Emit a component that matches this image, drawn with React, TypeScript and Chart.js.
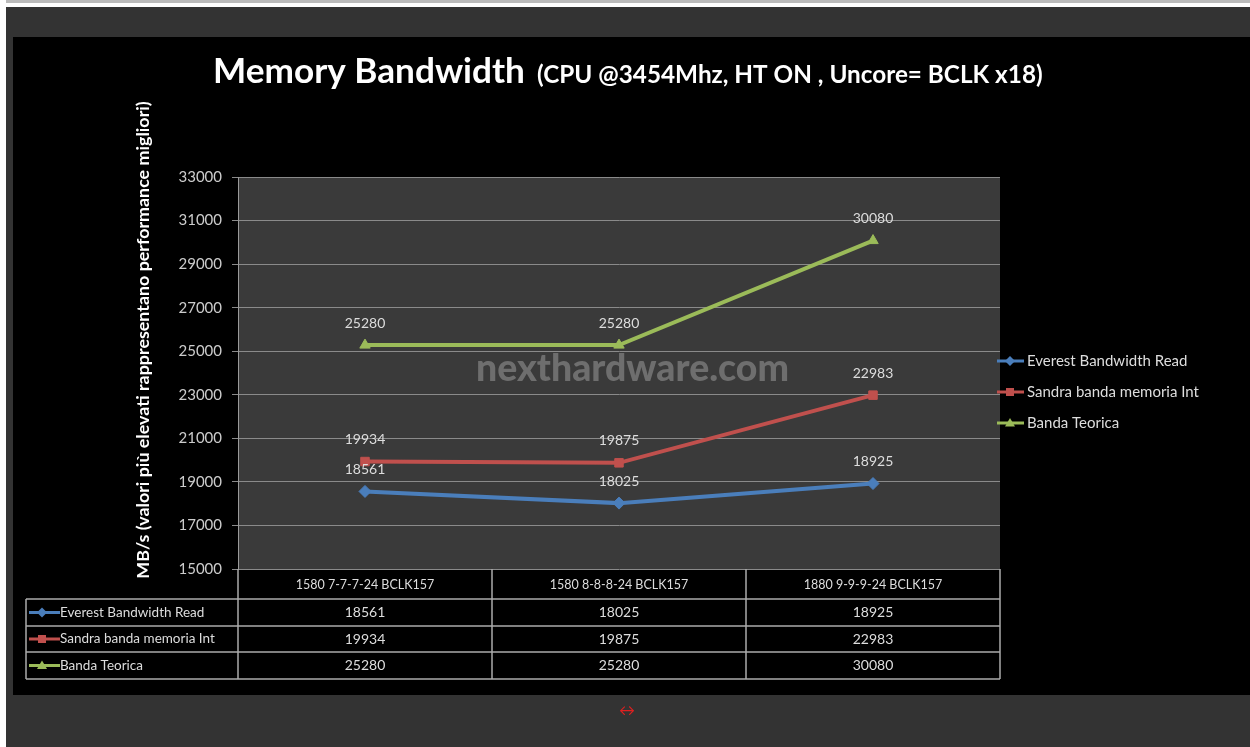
import { useEffect, useRef } from "react";
import { Chart, registerables } from "chart.js";
Chart.register(...registerables);

const categories = ["1580 7-7-7-24 BCLK157", "1580 8-8-8-24 BCLK157", "1880 9-9-9-24 BCLK157"];
const everest = [18561, 18025, 18925];
const sandra = [19934, 19875, 22983];
const teorica = [25280, 25280, 30080];
const seriesNames = ["Everest Bandwidth Read", "Sandra banda memoria Int", "Banda Teorica"];
const seriesColors = ["#4a7ebb", "#c0504d", "#9bbb59"];
const seriesPoints = ["rectRot", "rect", "triangle"];
const yMin = 15000;
const yMax = 33000;
const yStep = 2000;
const titleMain = "Memory Bandwidth";
const titleSub = "(CPU @3454Mhz, HT ON , Uncore= BCLK x18)";
const yTitle = "MB/s (valori più elevati rappresentano performance migliori)";
const watermark = "nexthardware.com";

const FONT = "Lato, 'Open Sans', sans-serif";

function fitFont(ctx: CanvasRenderingContext2D, text: string, width: number, weight: string) {
  ctx.font = `${weight} 100px ${FONT}`;
  const w = ctx.measureText(text).width;
  const size = (100 * width) / w;
  return `${weight} ${size.toFixed(2)}px ${FONT}`;
}

function drawMarker(ctx: CanvasRenderingContext2D, style: string, x: number, y: number, r: number, color: string) {
  ctx.save();
  ctx.fillStyle = color;
  ctx.beginPath();
  if (style === "rectRot") {
    ctx.moveTo(x, y - r);
    ctx.lineTo(x + r, y);
    ctx.lineTo(x, y + r);
    ctx.lineTo(x - r, y);
  } else if (style === "rect") {
    ctx.rect(x - r * 0.8, y - r * 0.8, r * 1.6, r * 1.6);
  } else {
    ctx.moveTo(x, y - r);
    ctx.lineTo(x + r, y + r * 0.7);
    ctx.lineTo(x - r, y + r * 0.7);
  }
  ctx.closePath();
  ctx.fill();
  ctx.restore();
}

const decorPlugin = {
  id: "decor",
  beforeDraw(chart: any) {
    const ctx = chart.ctx as CanvasRenderingContext2D;
    const a = chart.chartArea;
    ctx.save();
    ctx.fillStyle = "#ffffff";
    ctx.fillRect(0, 0, 1250, 747);
    ctx.fillStyle = "#bbbbbb";
    ctx.fillRect(6, 0, 1244, 3);
    ctx.fillStyle = "#333333";
    ctx.fillRect(6, 7, 1244, 740);
    ctx.fillStyle = "#000000";
    ctx.fillRect(13, 37, 1237, 658);
    ctx.fillStyle = "#3a3a3a";
    ctx.fillRect(a.left, a.top, a.right - a.left, a.bottom - a.top);

    // title
    ctx.fillStyle = "#ffffff";
    ctx.textBaseline = "alphabetic";
    ctx.textAlign = "left";
    ctx.font = fitFont(ctx, titleMain, 312, "bold");
    ctx.fillText(titleMain, 213, 83);
    ctx.font = fitFont(ctx, titleSub, 506, "bold");
    ctx.fillText(titleSub, 537, 83);

    // y title
    ctx.save();
    ctx.translate(143, 340);
    ctx.rotate(-Math.PI / 2);
    ctx.textAlign = "center";
    ctx.textBaseline = "middle";
    ctx.font = fitFont(ctx, yTitle, 478, "bold");
    ctx.fillStyle = "#ffffff";
    ctx.fillText(yTitle, 0, 0);
    ctx.restore();

    // red arrow
    ctx.fillStyle = "#e02020";
    ctx.font = `16px ${FONT}`;
    ctx.textAlign = "center";
    ctx.textBaseline = "middle";
    ctx.fillText("↔", 627, 711);
    ctx.restore();
  },
  beforeDatasetsDraw(chart: any) {
    const ctx = chart.ctx as CanvasRenderingContext2D;
    ctx.save();
    ctx.fillStyle = "#6e6e6e";
    ctx.textAlign = "left";
    ctx.textBaseline = "middle";
    ctx.font = fitFont(ctx, watermark, 313, "900");
    ctx.fillText(watermark, 476, 369);
    ctx.restore();
  },
  afterDatasetsDraw(chart: any) {
    const ctx = chart.ctx as CanvasRenderingContext2D;
    ctx.save();
    ctx.fillStyle = "#dddddd";
    ctx.font = `14px ${FONT}`;
    ctx.textAlign = "center";
    ctx.textBaseline = "middle";
    chart.data.datasets.forEach((ds: any, di: number) => {
      const meta = chart.getDatasetMeta(di);
      meta.data.forEach((pt: any, i: number) => {
        ctx.fillText(String(ds.data[i]), pt.x, pt.y - 22);
      });
    });
    ctx.restore();
  },
  afterDraw(chart: any) {
    const ctx = chart.ctx as CanvasRenderingContext2D;
    const a = chart.chartArea;
    const xs = chart.scales.x;
    const band = (a.right - a.left) / categories.length;
    const series = [everest, sandra, teorica];
    ctx.save();
    // right legend
    ctx.font = `15px ${FONT}`;
    ctx.textAlign = "left";
    ctx.textBaseline = "middle";
    seriesNames.forEach((name, i) => {
      const y = 361 + i * 31;
      ctx.strokeStyle = seriesColors[i];
      ctx.lineWidth = 3;
      ctx.beginPath();
      ctx.moveTo(997, y);
      ctx.lineTo(1024, y);
      ctx.stroke();
      drawMarker(ctx, seriesPoints[i], 1010, y, 5, seriesColors[i]);
      ctx.fillStyle = "#dddddd";
      ctx.fillText(name, 1027, y);
    });

    // data table
    const top = a.bottom;
    const rowH = [30, 27, 26, 27];
    const left = 26;
    ctx.strokeStyle = "#aaaaaa";
    ctx.lineWidth = 1.5;
    let y = top;
    const rowsY: number[] = [y];
    rowH.forEach((h) => {
      y += h;
      rowsY.push(y);
    });
    ctx.beginPath();
    ctx.moveTo(a.left, rowsY[0]);
    ctx.lineTo(a.left, rowsY[4]);
    ctx.moveTo(a.right, rowsY[0]);
    ctx.lineTo(a.right, rowsY[4]);
    ctx.moveTo(left, rowsY[1]);
    ctx.lineTo(left, rowsY[4]);
    for (let c = 1; c < categories.length; c++) {
      const x = a.left + band * c;
      ctx.moveTo(x, rowsY[0]);
      ctx.lineTo(x, rowsY[4]);
    }
    for (let r = 1; r <= 4; r++) {
      ctx.moveTo(left, rowsY[r]);
      ctx.lineTo(a.right, rowsY[r]);
    }
    ctx.stroke();

    ctx.fillStyle = "#dddddd";
    ctx.textAlign = "center";
    ctx.textBaseline = "middle";
    ctx.font = `12.5px ${FONT}`;
    categories.forEach((cat, i) => {
      ctx.fillText(cat, xs.getPixelForValue(i), (rowsY[0] + rowsY[1]) / 2 + 1);
    });
    series.forEach((vals, si) => {
      const cy = (rowsY[si + 1] + rowsY[si + 2]) / 2;
      ctx.textAlign = "center";
      ctx.font = `14px ${FONT}`;
      ctx.fillStyle = "#dddddd";
      vals.forEach((v, i) => {
        ctx.fillText(String(v), xs.getPixelForValue(i), cy);
      });
      ctx.strokeStyle = seriesColors[si];
      ctx.lineWidth = 3;
      ctx.beginPath();
      ctx.moveTo(29, cy);
      ctx.lineTo(60, cy);
      ctx.stroke();
      drawMarker(ctx, seriesPoints[si], 42, cy, 5, seriesColors[si]);
      ctx.textAlign = "left";
      ctx.font = `13.5px ${FONT}`;
      ctx.fillStyle = "#dddddd";
      ctx.fillText(seriesNames[si], 60, cy);
    });
    ctx.restore();
  },
};

export default function App() {
  const ref = useRef<HTMLCanvasElement | null>(null);
  useEffect(() => {
    const canvas = ref.current!;
    const makeDs = (label: string, data: number[], i: number) => ({
      label,
      data,
      borderColor: seriesColors[i],
      backgroundColor: seriesColors[i],
      borderWidth: 4,
      pointStyle: seriesPoints[i],
      pointRadius: 6,
      pointBorderWidth: 1,
      pointBorderColor: seriesColors[i],
      tension: 0,
    });
    const chart = new Chart(canvas, {
      type: "line",
      data: {
        labels: categories,
        datasets: [
          makeDs(seriesNames[0], everest, 0),
          makeDs(seriesNames[1], sandra, 1),
          makeDs(seriesNames[2], teorica, 2),
        ],
      },
      options: {
        animation: false,
        responsive: false,
        devicePixelRatio: 1,
        layout: { padding: { left: 118, top: 177, right: 250, bottom: 178 } },
        plugins: { legend: { display: false }, title: { display: false }, tooltip: { enabled: false } },
        scales: {
          x: { display: false, offset: true },
          y: {
            min: yMin,
            max: yMax,
            afterFit: (s: any) => {
              s.width = 120;
            },
            ticks: {
              stepSize: yStep,
              color: "#cccccc",
              font: { size: 15, family: FONT },
              padding: 10,
              callback: (v: any) => String(v),
            },
            grid: { color: "#8a8a8a", lineWidth: 1, tickLength: 6, drawTicks: true },
            border: { display: true, color: "#9a9a9a", width: 1 },
          },
        },
      },
      plugins: [decorPlugin],
    } as any);
    return () => chart.destroy();
  }, []);
  return (
    <div style={{ position: "fixed", left: 0, top: 0, width: 1250, height: 747 }}>
      <canvas ref={ref} width={1250} height={747} style={{ width: 1250, height: 747, display: "block" }} />
    </div>
  );
}
